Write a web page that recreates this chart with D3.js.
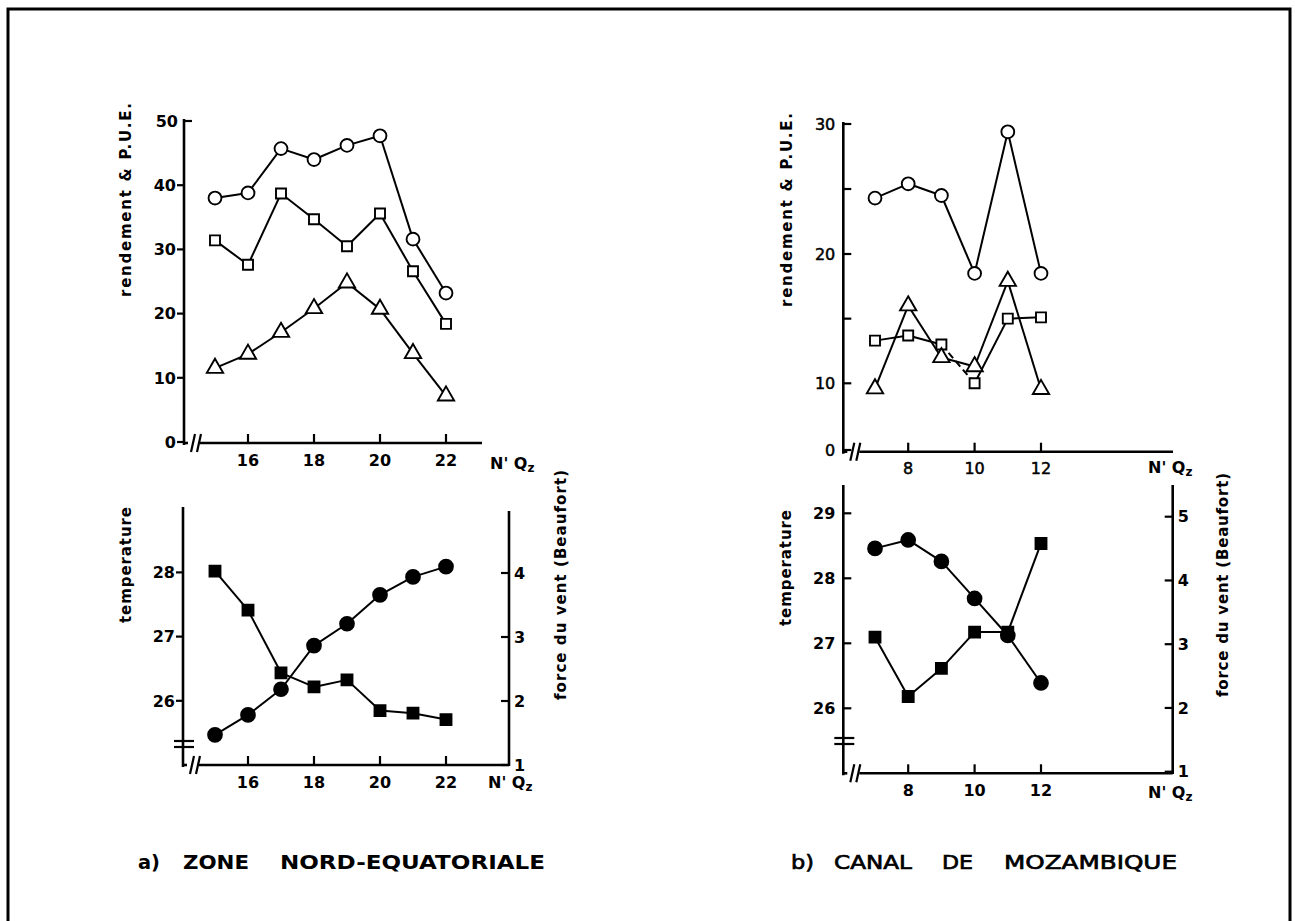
<!DOCTYPE html>
<html><head><meta charset="utf-8">
<script src="https://cdn.jsdelivr.net/npm/d3@7"></script>
<style>
body{margin:0;background:#fff}
svg{display:block}
text{font-family:"DejaVu Sans","Liberation Sans",Arial,sans-serif;fill:#000}
</style>
</head><body>
<svg id="c" width="1295" height="921"></svg>
<script>
// ---------- DATA ----------
const xLeft = [15, 16, 17, 18, 19, 20, 21, 22];
const leftCircles   = [38.0, 38.8, 45.7, 44.0, 46.2, 47.7, 31.6, 23.2];
const leftSquares   = [31.4, 27.6, 38.7, 34.7, 30.5, 35.6, 26.6, 18.4];
const leftTriangles = [11.5, 13.7, 17.1, 20.8, 24.8, 20.7, 13.8, 7.2];
const leftTemp = [25.47, 25.78, 26.18, 26.86, 27.20, 27.65, 27.93, 28.09];
const leftWind = [4.03, 3.42, 2.44, 2.22, 2.33, 1.85, 1.81, 1.71];
const leftXTicks = [16, 18, 20, 22];
const leftYTicks = [0, 10, 20, 30, 40, 50];
const leftTempTicks = [26, 27, 28];
const leftWindTicks = [1, 2, 3, 4];

const xRight = [7, 8, 9, 10, 11, 12];
const rightCircles   = [24.3, 25.4, 24.5, 18.5, 29.4, 18.5];
const rightSquares   = [13.3, 13.7, 13.0, 10.0, 15.0, 15.1];
const rightTriangles = [9.2, 16.0, 12.0, 11.3, 17.9, 9.1];
const rightTemp = [28.46, 28.59, 28.26, 27.69, 27.12, 26.39];
const rightWind = [3.11, 2.18, 2.62, 3.19, 3.19, 4.58];
const rightXTicks = [8, 10, 12];
const rightYTicks = [0, 10, 15, 20, 25, 30];
const rightYLabels = [0, 10, 20, 30];
const rightTempTicks = [26, 27, 28, 29];
const rightWindTicks = [1, 2, 3, 4, 5];

const yLabelTop = "rendement & P.U.E.";
const yLabelTemp = "temperature";
const yLabelWind = "force du vent (Beaufort)";
const titleAWords = ["a)", "ZONE", "NORD-EQUATORIALE"];
const titleBWords = ["b)", "CANAL", "DE", "MOZAMBIQUE"];

// ---------- DRAW ----------
const svg = d3.select('#c');
svg.append('rect').attr('width', 1295).attr('height', 921).attr('fill', '#fff');
svg.append('path').attr('d', 'M8,925V9H1290V925').attr('fill', 'none')
  .attr('stroke', '#000').attr('stroke-width', 3);

const AX = 2.6, LN = 2.0;

function line(g, d, w, dash) {
  g.append('path').attr('d', d).attr('fill', 'none').attr('stroke', '#000')
    .attr('stroke-width', w || AX).attr('stroke-dasharray', dash || null);
}
function xBreakAxis(g, x0, yTop, yBase, xEnd) {
  line(g, `M${x0},${yTop}V${yBase + 2}`);
  line(g, `M${x0},${yBase}H${x0 + 4}`);
  line(g, `M${x0 + 7},${yBase + 9}L${x0 + 11},${yBase - 9}`, 2.2);
  line(g, `M${x0 + 13},${yBase + 9}L${x0 + 17},${yBase - 9}`, 2.2);
  line(g, `M${x0 + 16},${yBase}H${xEnd}`);
}
function yBreak(g, x0, yb) {
  line(g, `M${x0 - 9},${yb - 3}H${x0 + 11}`, 2.2);
  line(g, `M${x0 - 9},${yb + 3}H${x0 + 11}`, 2.2);
}
function styleText(t, weight) {
  t.attr('font-size', 16).attr('font-weight', weight === 'normal' ? 'normal' : 'bold');
  if (weight === 'normal') t.attr('stroke', '#000').attr('stroke-width', 0.5);
  return t;
}
function ticksLeft(g, x0, y, vals, labels, size, inward, weight) {
  vals.forEach(v => {
    const yy = y(v);
    line(g, inward ? `M${x0},${yy}H${x0 + size}` : `M${x0 - size},${yy}H${x0}`, 2.2);
    if (labels.includes(v)) {
      styleText(g.append('text').attr('x', inward ? x0 - 8 : x0 - size - 1).attr('y', yy).attr('dy', '0.36em')
        .attr('text-anchor', 'end').text(v), weight);
    }
  });
}
function ticksRight(g, x0, y, vals, weight) {
  vals.forEach(v => {
    const yy = y(v);
    line(g, `M${x0 - 8},${yy}H${x0}`, 2.2);
    styleText(g.append('text').attr('x', x0 + 5).attr('y', yy).attr('dy', '0.36em')
      .attr('text-anchor', 'start').text(v), weight);
  });
}
function ticksBottom(g, x, yBase, vals, weight) {
  vals.forEach(v => {
    const xx = x(v);
    line(g, `M${xx},${yBase}V${yBase - 9}`, 2.2);
    styleText(g.append('text').attr('x', xx).attr('y', yBase + 17).attr('dy', '0.36em')
      .attr('text-anchor', 'middle').text(v), weight);
  });
}
function nqz(g, x, y) {
  const t = g.append('text').attr('x', x).attr('y', y).attr('dy', '0.36em')
    .attr('font-size', 16).attr('font-weight', 'bold');
  t.append('tspan').text("N' Q");
  t.append('tspan').attr('dy', '0.3em').attr('font-size', 12).text('z');
}
function vlabel(g, x, yc, txt, len) {
  g.append('text').attr('transform', `translate(${x},${yc}) rotate(-90)`)
    .attr('text-anchor', 'middle').attr('dy', '0.36em')
    .attr('font-size', 15).attr('font-weight', 'bold')
    .attr('textLength', len).attr('lengthAdjust', 'spacing').text(txt);
}
function title(g, words, spans, y, bold) {
  words.forEach((w, i) => {
    const t = g.append('text').attr('x', spans[i][0]).attr('y', y).attr('dy', '0.36em')
      .attr('font-size', 20).attr('font-weight', bold ? 'bold' : 'normal')
      .attr('textLength', spans[i][1] - spans[i][0]).attr('lengthAdjust', 'spacingAndGlyphs').text(w);
    if (!bold) t.attr('stroke', '#000').attr('stroke-width', 0.7);
  });
}
function series(g, xs, ys, x, y, type, filled, dashedSeg) {
  const pts = xs.map((v, i) => [x(v), y(ys[i])]);
  for (let i = 0; i < pts.length - 1; i++) {
    line(g, `M${pts[i][0]},${pts[i][1]}L${pts[i + 1][0]},${pts[i + 1][1]}`, LN,
      i === dashedSeg ? '7,4' : null);
  }
  const sizes = { circle: filled ? 150 : 130, square: filled ? 120 : 100, triangle: 115 };
  const sym = { circle: d3.symbolCircle, square: d3.symbolSquare, triangle: d3.symbolTriangle }[type];
  const gen = d3.symbol().type(sym).size(sizes[type]);
  g.selectAll(null).data(pts).join('path')
    .attr('transform', p => `translate(${p[0]},${p[1]})`)
    .attr('d', gen())
    .attr('fill', filled ? '#000' : '#fff')
    .attr('stroke', '#000').attr('stroke-width', 1.9);
}

// ---- Panel a) top
const gA = svg.append('g');
const xL = d3.scaleLinear().domain([15, 22]).range([215, 446]);
const yTL = d3.scaleLinear().domain([0, 50]).range([442, 121]);
xBreakAxis(gA, 184, 119, 443, 482);
line(gA, `M184,121H192`, 2.2);
ticksLeft(gA, 184, yTL, leftYTicks.slice(0, -1), leftYTicks, 7, false, 'bold');
styleText(gA.append('text').attr('x', 178).attr('y', yTL(50)).attr('dy', '0.36em').attr('text-anchor', 'end')
  .text(leftYTicks[5]), 'bold');
ticksBottom(gA, xL, 443, leftXTicks, 'bold');
nqz(gA, 490, 463);
vlabel(gA, 126, 200, yLabelTop, 194);
series(gA, xLeft, leftCircles, xL, yTL, 'circle', false);
series(gA, xLeft, leftSquares, xL, yTL, 'square', false);
series(gA, xLeft, leftTriangles, xL, yTL, 'triangle', false);

// ---- Panel a) bottom
const yTempL = d3.scaleLinear().domain([25, 29]).range([765, 508.2]);
const yWindL = d3.scaleLinear().domain([1, 4]).range([765, 573]);
xBreakAxis(gA, 183, 507, 765, 509);
line(gA, `M509,511V766`);
yBreak(gA, 183, 744);
ticksLeft(gA, 183, yTempL, leftTempTicks, leftTempTicks, 7, false, 'bold');
ticksRight(gA, 509, yWindL, leftWindTicks, 'bold');
ticksBottom(gA, xL, 765, leftXTicks, 'bold');
nqz(gA, 488, 782);
vlabel(gA, 126, 565, yLabelTemp, 116);
vlabel(gA, 561, 585, yLabelWind, 230);
series(gA, xLeft, leftWind, xL, yWindL, 'square', true);
series(gA, xLeft, leftTemp, xL, yTempL, 'circle', true);
title(gA, titleAWords, [[138, 160], [183, 249], [280, 545]], 862, true);

// ---- Panel b) top
const gB = svg.append('g');
const xR = d3.scaleLinear().domain([7, 12]).range([875, 1041]);
const yTR = d3.scaleLinear().domain([0, 10, 20, 30]).range([450, 383.3, 254, 124]);
xBreakAxis(gB, 843.3, 122, 451.7, 1173);
ticksLeft(gB, 843.3, yTR, rightYTicks, rightYLabels, 8, true, 'normal');
ticksBottom(gB, xR, 451.7, rightXTicks, 'normal');
nqz(gB, 1148, 467);
vlabel(gB, 787, 210, yLabelTop, 194);
series(gB, xRight, rightCircles, xR, yTR, 'circle', false);
series(gB, xRight, rightSquares, xR, yTR, 'square', false, 2);
series(gB, xRight, rightTriangles, xR, yTR, 'triangle', false);

// ---- Panel b) bottom
const yTempR = d3.scaleLinear().domain([25, 29]).range([773.3, 513.3]);
const yWindR = d3.scaleLinear().domain([1, 5]).range([771.7, 516.7]);
xBreakAxis(gB, 843.3, 485, 773.3, 1172.7);
line(gB, `M1172.7,485V774`);
yBreak(gB, 843.3, 741);
ticksLeft(gB, 843.3, yTempR, rightTempTicks, rightTempTicks, 8, true, 'bold');
ticksRight(gB, 1172.7, yWindR, rightWindTicks, 'bold');
ticksBottom(gB, xR, 773.3, rightXTicks, 'bold');
nqz(gB, 1148, 792);
vlabel(gB, 786, 568, yLabelTemp, 116);
vlabel(gB, 1223, 585, yLabelWind, 224);
series(gB, xRight, rightWind, xR, yWindR, 'square', true);
series(gB, xRight, rightTemp, xR, yTempR, 'circle', true);
title(gB, titleBWords, [[791, 814], [834, 912], [942, 973], [1004, 1177]], 862, false);
</script>
</body></html>
